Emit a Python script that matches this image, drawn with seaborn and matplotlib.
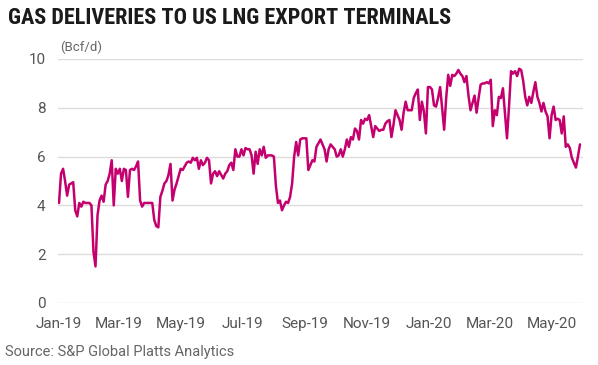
import matplotlib
matplotlib.use('Agg')
import matplotlib.pyplot as plt
import matplotlib.dates as mdates
import pandas as pd
import seaborn as sns

# feedgas to US LNG terminals, Bcf/d, one reading every 2 days from 1 Jan 2019
start_date = '2019-01-01'
flow_2019_h1 = [
    4.1, 5.3, 5.5, 5.0, 4.4, 4.85, 4.9, 4.95, 3.8, 3.55,
    4.1, 3.95, 4.15, 4.1, 4.1, 4.1, 4.0, 2.1, 1.5, 3.6,
    4.2, 4.4, 4.15, 4.85, 5.0, 5.3, 5.85, 4.0, 5.5, 5.3,
    5.5, 5.0, 5.5, 5.45, 4.35, 5.45, 5.5, 5.45, 5.6, 5.8,
    4.2, 3.95, 4.1, 4.1, 4.1, 4.1, 4.1, 3.4, 3.15, 3.1,
    4.35, 4.6, 4.9, 5.0, 5.25, 5.7, 4.2, 4.65, 4.9, 5.2,
    5.5, 5.45, 5.6, 5.75, 5.8, 5.75, 5.95, 5.85, 5.95, 5.5,
    5.85, 5.65, 5.75, 5.95, 5.85, 4.9, 5.3, 5.4, 5.2, 5.4,
    5.25, 5.1, 5.3, 5.4, 5.65, 5.75, 5.45, 6.3, 6.0, 6.0,
    6.3,
]
flow_2019_h2 = [
    6.05, 6.35, 6.3, 6.3, 6.05, 5.3, 6.2, 5.7, 6.3,
    6.05, 6.4, 5.95, 6.05, 6.05, 6.05, 6.0, 4.8, 4.1, 4.2,
    3.8, 4.0, 4.15, 4.1, 4.35, 4.9, 6.0, 6.6, 6.05, 6.7,
    6.75, 6.75, 6.75, 5.45, 5.65, 5.85, 5.8, 6.4, 6.55, 6.7,
    6.5, 6.3, 5.8, 6.3, 6.5, 6.4, 6.3, 6.0, 6.05, 6.3,
    6.0, 6.3, 6.7, 6.4, 6.8, 6.7, 7.15, 7.05, 6.7, 7.5,
    7.35, 7.55, 7.5, 7.7, 7.25, 6.8, 7.25, 7.15, 7.05, 7.1,
    7.1, 7.35, 7.45, 7.5, 6.8, 7.3, 7.9, 7.7, 7.5, 7.1,
    7.8, 8.25, 7.9, 7.9, 7.9, 8.4, 8.6, 8.75, 7.5, 8.25,
    7.85, 6.95, 8.85,
]
flow_2020 = [
    8.85, 8.75, 8.1, 8.05, 8.4, 8.85, 8.0,
    7.1, 8.4, 9.35, 8.9, 9.35, 9.3, 9.4, 9.55, 9.4, 9.3,
    9.05, 9.3, 8.5, 7.9, 8.2, 8.5, 7.8, 8.4, 8.95, 9.0,
    9.0, 9.05, 9.0, 9.15, 7.25, 7.9, 7.7, 8.45, 8.4, 8.8,
    7.8, 6.75, 8.05, 9.5, 9.4, 9.5, 9.3, 9.6, 9.55, 9.1,
    8.45, 8.1, 8.45, 8.2, 8.65, 9.05, 8.45, 8.2, 7.85, 8.2,
    7.85, 7.65, 6.75, 7.7, 8.05, 7.5, 7.55, 7.5, 6.95, 7.65,
    6.4, 6.5, 6.35, 5.95, 5.75, 5.55, 6.0, 6.5,
]
y_ticks = [0, 2, 4, 6, 8, 10]
x_tick_dates = ['2019-01-01', '2019-03-01', '2019-05-01', '2019-07-01', '2019-09-01',
                '2019-11-01', '2020-01-01', '2020-03-01', '2020-05-01']

flow = flow_2019_h1 + flow_2019_h2 + flow_2020
df = pd.DataFrame({
    'date': pd.date_range(start_date, periods=len(flow), freq='2D'),
    'bcfd': flow,
})

sns.set_theme(style='white')
plt.rcParams['font.family'] = ['Roboto', 'DejaVu Sans']

fig = plt.figure(figsize=(5.98, 3.65), dpi=100)
ax = fig.add_axes([58 / 598, 1 - 303 / 365, 525 / 598, 244 / 365])

sns.lineplot(data=df, x='date', y='bcfd', ax=ax, color='#c4006e', linewidth=1.8)

ax.set_ylim(0, 10)
ax.set_yticks(y_ticks)
ax.set_xlim(pd.Timestamp('2018-12-31'), pd.Timestamp('2020-06-01'))
ax.set_xticks(pd.to_datetime(x_tick_dates))
ax.xaxis.set_major_formatter(mdates.DateFormatter('%b-%y'))
ax.grid(axis='y', color='#dcdcdc', linewidth=1)
ax.set_axisbelow(True)
for s in ax.spines.values():
    s.set_visible(False)
ax.tick_params(axis='both', length=0, labelsize=11, colors='#555555')
ax.tick_params(axis='y', pad=9)
ax.tick_params(axis='x', pad=10)
ax.set_xlabel('')
ax.set_ylabel('')

fig.text(8 / 598, 1 - 18 / 365, 'GAS DELIVERIES TO US LNG EXPORT TERMINALS',
         family=['Roboto Condensed', 'Roboto', 'DejaVu Sans'], fontweight='bold',
         fontsize=16, color='#1a1a1a', va='center', ha='left')
fig.text(60 / 598, 1 - 47 / 365, '(Bcf/d)', fontsize=9.5, color='#666666',
         va='center', ha='left')
fig.text(5 / 598, 1 - 352 / 365, 'Source: S&P Global Platts Analytics', fontsize=10.5,
         color='#666666', va='center', ha='left')

fig.savefig('out.png', dpi=100)
